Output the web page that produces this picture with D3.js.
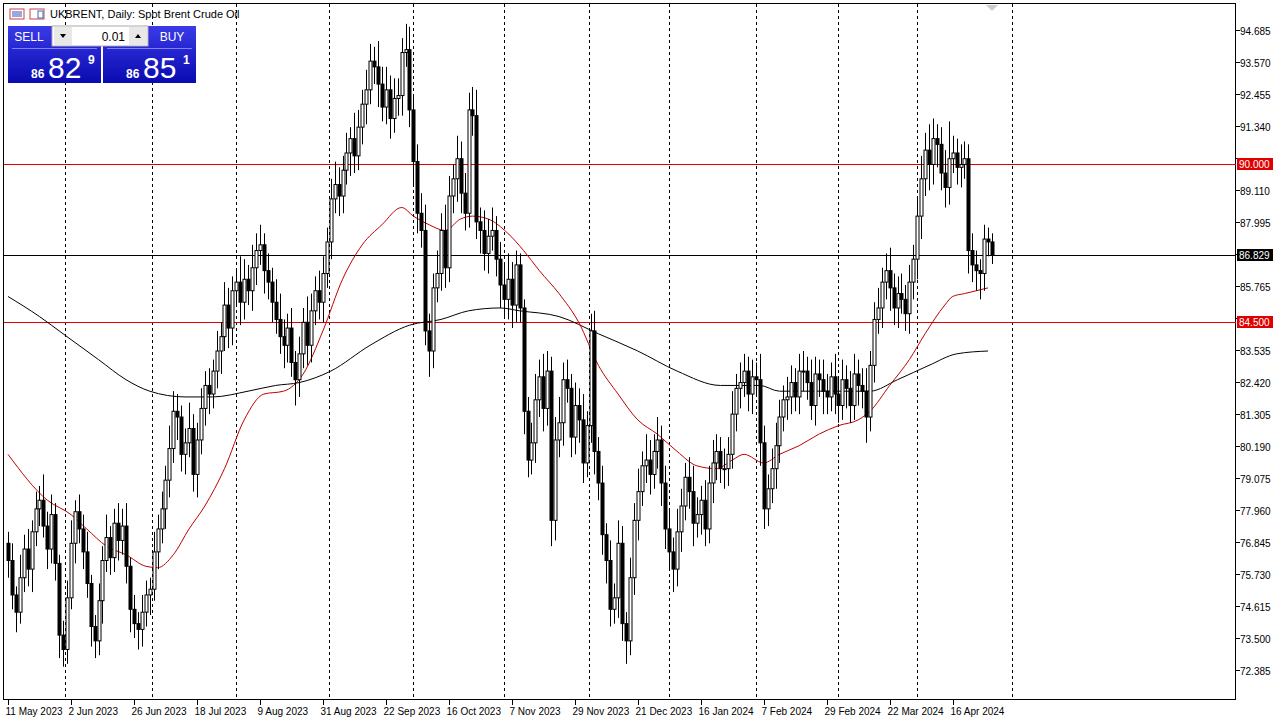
<!DOCTYPE html>
<html><head><meta charset="utf-8">
<script src="https://cdn.jsdelivr.net/npm/d3@7"></script>
<style>body{margin:0;background:#fff;}svg{display:block;font-family:"Liberation Sans",Arial,sans-serif;}</style>
</head><body>
<svg id="c" width="1285" height="724"></svg>
<script>
const closes = [
76.2,75.0,74.4,75.6,76.6,75.9,77.2,78.0,78.3,77.4,
76.6,77.8,76.1,73.6,73.1,74.9,76.8,77.9,77.3,76.5,
75.4,73.9,73.4,74.8,76.2,77.0,76.3,77.5,76.9,77.4,
76.0,74.5,74.0,73.8,74.4,75.0,75.2,76.5,77.3,78.0,
79.0,80.1,81.4,81.2,79.9,80.3,80.8,79.2,80.4,81.5,
82.3,82.0,82.8,83.5,84.0,85.1,84.3,85.6,85.9,85.2,
86.0,85.6,86.4,87.0,87.2,86.3,85.9,85.2,84.6,84.0,
83.7,84.3,83.1,82.5,83.4,84.5,83.7,84.9,85.6,85.2,
86.2,87.3,88.8,89.3,88.9,89.8,90.4,90.9,90.3,91.3,
92.1,92.6,93.6,93.4,92.8,92.0,92.6,91.6,92.3,92.4,
93.9,94.0,91.9,90.1,88.3,87.7,84.2,83.5,85.7,86.2,
87.7,86.4,88.9,89.5,90.2,89.0,88.3,91.9,91.7,88.0,
87.7,86.9,87.5,87.7,86.7,85.8,85.3,86.0,85.1,86.5,
85.0,81.4,79.7,80.3,81.8,82.6,81.5,82.8,77.6,80.4,
81.0,82.5,82.2,80.5,81.6,81.1,79.6,80.9,84.2,80.0,
78.9,77.1,76.2,74.5,74.9,76.8,74.0,73.4,75.6,77.6,
78.6,79.5,79.7,79.2,80.0,80.4,78.9,77.3,76.5,75.9,
77.2,78.1,79.1,78.6,77.5,77.8,78.3,77.3,78.9,79.6,
80.0,79.4,79.4,79.9,81.3,82.2,82.4,82.8,82.0,82.6,
82.5,80.3,78.0,78.7,79.4,80.2,81.2,81.8,81.9,82.4,
81.9,82.8,82.8,82.4,81.6,82.7,82.5,82.1,81.9,82.6,
82.0,81.6,82.5,82.2,81.6,82.7,82.3,82.1,81.2,83.0,
84.6,85.0,85.9,86.3,85.7,85.0,85.5,85.3,84.8,85.9,
86.7,88.2,89.5,90.5,90.0,90.9,90.7,89.7,89.2,90.2,
90.4,89.9,90.0,90.2,87.0,86.5,86.3,86.2,87.4,87.3,
86.83];
const opens = [
76.8,76.2,75.0,74.4,75.6,76.6,75.9,77.2,78.0,78.3,
77.4,76.6,77.8,76.1,73.6,73.1,74.9,76.8,77.9,77.3,
76.5,75.4,73.9,73.4,74.8,76.2,77.0,76.3,77.5,76.9,
77.4,76.0,74.5,74.0,73.8,74.4,75.0,75.2,76.5,77.3,
78.0,79.0,80.1,81.4,81.2,79.9,80.3,80.8,79.2,80.4,
81.5,82.3,82.0,82.8,83.5,84.0,85.1,84.3,85.6,85.9,
85.2,86.0,85.6,86.4,87.0,87.2,86.3,85.9,85.2,84.6,
84.0,83.7,84.3,83.1,82.5,83.4,84.5,83.7,84.9,85.6,
85.2,86.2,87.3,88.8,89.3,88.9,89.8,90.4,90.9,90.3,
91.3,92.1,92.6,93.6,93.4,92.8,92.0,92.6,91.6,92.3,
92.4,93.9,94.0,91.9,90.1,88.3,87.7,84.2,83.5,85.7,
86.2,87.7,86.4,88.9,89.5,90.2,89.0,88.3,91.9,91.7,
88.0,87.7,86.9,87.5,87.7,86.7,85.8,85.3,86.0,85.1,
86.5,85.0,81.4,79.7,80.3,81.8,82.6,81.5,82.8,77.6,
80.4,81.0,82.5,82.2,80.5,81.6,81.1,79.6,80.9,84.2,
80.0,78.9,77.1,76.2,74.5,74.9,76.8,74.0,73.4,75.6,
77.6,78.6,79.5,79.7,79.2,80.0,80.4,78.9,77.3,76.5,
75.9,77.2,78.1,79.1,78.6,77.5,77.8,78.3,77.3,78.9,
79.6,80.0,79.4,79.4,79.9,81.3,82.2,82.4,82.8,82.0,
82.6,82.5,80.3,78.0,78.7,79.4,80.2,81.2,81.8,81.9,
82.4,81.9,82.8,82.8,82.4,81.6,82.7,82.5,82.1,81.9,
82.6,82.0,81.6,82.5,82.2,81.6,82.7,82.3,82.1,81.2,
83.0,84.6,85.0,85.9,86.3,85.7,85.0,85.5,85.3,84.8,
85.9,86.7,88.2,89.5,90.5,90.0,90.9,90.7,89.7,89.2,
90.2,90.4,89.9,90.0,90.2,87.0,86.5,86.3,86.2,87.4,
87.3];
const wickUp = [
0.4,0.6,0.3,0.8,0.5,0.7,0.4,0.6,0.5,0.9,
0.5,0.7,0.4,0.3,0.5,0.6,0.8,0.4,0.6,0.5,
0.7,0.3,0.4,0.6,0.5,0.8,0.4,0.5,0.7,0.6,
0.8,0.3,0.5,0.4,0.6,0.5,0.4,0.7,0.5,0.6,
0.5,0.8,0.7,0.6,0.4,0.5,0.9,0.5,0.6,0.7,
0.5,0.6,0.4,0.7,0.5,0.8,0.6,0.5,0.4,0.9,
0.7,0.5,0.8,0.6,0.7,0.4,0.6,0.5,0.8,0.9,
0.6,0.5,0.7,0.4,0.6,0.5,0.9,0.6,0.5,0.7,
0.6,0.5,0.7,0.8,0.6,0.5,0.7,0.4,0.9,0.6,
0.5,0.7,0.6,0.5,0.9,0.6,0.8,0.5,0.7,0.6,
0.5,0.9,0.8,0.5,0.6,0.7,0.9,0.6,0.5,0.8,
0.6,0.9,0.7,0.5,0.8,0.6,0.7,0.6,0.8,0.9,
0.5,0.7,0.6,0.8,0.5,0.6,0.7,0.9,0.6,0.5,
0.4,0.3,0.5,0.7,0.9,0.6,0.8,0.7,0.5,0.8,
0.9,0.6,0.7,0.5,0.8,0.6,0.9,0.5,0.6,0.7,
0.5,0.6,0.4,0.7,0.5,0.8,0.6,0.4,0.7,0.6,
0.8,0.5,0.9,0.7,0.6,0.8,0.5,0.6,0.7,0.5,
0.8,0.6,0.5,0.7,0.9,0.6,0.5,0.7,0.6,0.8,
0.6,0.5,0.7,0.6,0.8,0.5,0.7,0.6,0.5,0.6,
0.5,0.9,0.6,0.5,0.7,0.8,0.6,0.5,0.7,0.6,
0.5,0.6,0.7,0.5,0.8,0.6,0.5,0.7,0.6,0.5,
0.8,0.6,0.7,0.5,0.6,0.7,0.5,0.6,0.8,0.5,
0.6,0.7,0.5,0.6,0.8,0.5,0.6,0.7,0.5,0.6,
0.5,0.7,0.8,0.6,0.9,0.7,0.5,0.6,0.8,1.3,
0.6,0.5,0.7,0.6,0.5,0.6,0.5,0.4,0.5,0.4,
0.3];
const wickDn = [
0.6,0.5,0.7,0.4,0.5,0.6,0.8,0.5,0.6,0.4,
0.7,0.5,0.6,0.8,0.6,0.5,0.4,0.7,0.5,0.6,
0.5,0.7,0.6,0.5,0.8,0.4,0.6,0.5,0.7,0.5,
0.6,0.8,0.5,0.7,0.6,0.5,0.7,0.4,0.6,0.5,
0.7,0.6,0.5,0.8,0.6,0.7,0.5,0.6,0.8,0.5,
0.6,0.7,0.5,0.6,0.8,0.5,0.7,0.6,0.5,0.8,
0.6,0.5,0.7,0.6,0.5,0.8,0.6,0.7,0.5,0.6,
0.8,0.6,0.5,0.9,0.6,0.5,0.7,0.6,0.5,0.6,
0.7,0.5,0.6,0.5,0.7,0.6,0.5,0.8,0.6,0.5,
0.6,0.7,0.5,0.6,0.8,0.5,0.6,0.7,0.5,0.6,
0.7,0.5,0.6,0.8,0.7,0.6,0.5,0.9,0.6,0.5,
0.6,0.7,0.5,0.6,0.8,0.7,0.6,0.5,0.7,0.6,
0.8,0.6,0.7,0.5,0.6,0.8,0.6,0.7,0.8,0.6,
0.5,0.8,0.6,0.5,0.7,0.6,0.8,0.6,0.9,0.7,
0.6,0.8,0.5,0.7,0.6,0.8,0.7,0.5,0.6,0.8,
0.6,0.7,0.8,0.6,0.5,0.7,0.6,0.8,0.5,0.6,
0.7,0.5,0.6,0.7,0.5,0.6,0.8,0.7,0.6,0.8,
0.6,0.7,0.5,0.6,0.8,0.5,0.7,0.6,0.5,0.7,
0.6,0.5,0.7,0.6,0.5,0.6,0.7,0.5,0.6,0.7,
0.6,0.8,0.7,0.6,0.5,0.7,0.6,0.5,0.7,0.6,
0.5,0.6,0.7,0.6,0.5,0.7,0.6,0.8,0.6,0.5,
0.7,0.6,0.5,0.7,0.6,0.5,0.7,0.6,0.9,0.5,
0.6,0.5,0.7,0.6,0.8,0.6,0.7,0.5,0.6,0.7,
0.6,0.7,0.8,0.6,0.9,0.7,0.8,0.6,0.7,0.6,
0.5,0.6,0.7,0.5,0.8,0.6,0.7,0.9,0.6,0.5,
0.3];
const ma50 = [[0,79.9],[10,78.3],[16,77.8],[20,77.3],[25,76.7],[30,76.4],[35,76.0],[38,75.95],[42,76.4],[46,77.3],[50,78.1],[55,79.4],[60,81.1],[65,82.0],[70,82.1],[75,82.7],[80,84.2],[85,86.0],[90,87.2],[95,87.9],[100,88.5],[103,88.2],[107,87.9],[111,87.7],[115,88.1],[118,88.2],[122,88.1],[127,87.6],[131,87.0],[135,86.3],[140,85.5],[145,84.5],[150,83.0],[155,82.0],[160,81.1],[165,80.6],[170,80.0],[175,79.5],[180,79.4],[184,79.7],[187,79.9],[192,79.6],[196,79.9],[201,80.2],[206,80.6],[211,80.9],[216,81.1],[219,81.4],[224,82.3],[229,83.2],[233,84.1],[238,85.1],[240,85.4],[243,85.5],[249,85.7]];
const ma200 = [[0,85.4],[8,84.7],[14,84.1],[23,83.2],[30,82.5],[36,82.1],[45,81.9],[52,81.9],[61,82.1],[68,82.3],[74,82.4],[82,82.8],[92,83.7],[102,84.4],[110,84.6],[117,84.9],[125,85.0],[130,84.9],[140,84.7],[150,84.1],[160,83.5],[170,82.8],[181,82.3],[191,82.3],[196,82.1],[206,82.1],[219,82.1],[226,82.5],[234,83.0],[241,83.4],[249,83.5]];
const priceTicks = [94.685,93.570,92.455,91.340,90.225,89.110,87.995,86.880,85.765,84.650,83.535,82.420,81.305,80.190,79.075,77.960,76.845,75.730,74.615,73.500,72.385];
const dateLabels = ["11 May 2023","2 Jun 2023","26 Jun 2023","18 Jul 2023","9 Aug 2023","31 Aug 2023","22 Sep 2023","16 Oct 2023","7 Nov 2023","29 Nov 2023","21 Dec 2023","16 Jan 2024","7 Feb 2024","29 Feb 2024","22 Mar 2024","16 Apr 2024"];
const dateBars = [0,16,32,48,64,80,96,112,128,144,160,176,192,208,224,240];
const gridBars = [14.5,36.5,58,81.5,103,126,147.5,168,190,211,231,255];
const levels = [{v:90.000,c:"#e00000"},{v:84.500,c:"#e00000"}];
const current = 86.829;

const svg = d3.select("#c");
const x = d3.scaleLinear().domain([0,250]).range([8,992]);
const y = d3.scaleLinear().domain([72.385,94.685]).range([670,30]);
const L=4,R=1236,T=4,B=700;

svg.append("rect").attr("x",0).attr("y",0).attr("width",1285).attr("height",724).attr("fill","#fff");
svg.append("rect").attr("x",L-0.5).attr("y",T-0.5).attr("width",R-L).attr("height",B-T).attr("fill","none").attr("stroke","#000");
svg.append("g").selectAll("line").data(gridBars).join("line")
  .attr("x1",d=>Math.round(x(d))+0.5).attr("x2",d=>Math.round(x(d))+0.5).attr("y1",T).attr("y2",B)
  .attr("stroke","#000").attr("stroke-dasharray","3,3").attr("stroke-width",1);
levels.forEach(l=>svg.append("line").attr("x1",L).attr("x2",R).attr("y1",Math.round(y(l.v))+0.5).attr("y2",Math.round(y(l.v))+0.5).attr("stroke",l.c));
svg.append("line").attr("x1",L).attr("x2",R).attr("y1",Math.round(y(current))+0.5).attr("y2",Math.round(y(current))+0.5).attr("stroke","#000");
const line=d3.line().x(d=>x(d[0])).y(d=>y(d[1])).curve(d3.curveMonotoneX);
svg.append("path").attr("d",line(ma200)).attr("fill","none").attr("stroke","#000");
svg.append("path").attr("d",line(ma50)).attr("fill","none").attr("stroke","#c00000");
const data = closes.map((c,i)=>({i,o:opens[i],c,h:Math.max(opens[i],c)+wickUp[i],l:Math.min(opens[i],c)-wickDn[i]}));
const g=svg.append("g");
data.forEach(d=>{
  const cx=Math.round(x(d.i))+0.5;
  g.append("line").attr("x1",cx).attr("x2",cx).attr("y1",y(d.h)).attr("y2",y(d.l)).attr("stroke","#000");
  const top=y(Math.max(d.o,d.c)), bot=y(Math.min(d.o,d.c));
  g.append("rect").attr("x",cx-1.5).attr("y",top).attr("width",3).attr("height",Math.max(1,bot-top))
    .attr("fill",d.c>=d.o?"#fff":"#000").attr("stroke","#000").attr("stroke-width",1);
});
const ax=svg.append("g");
const tagged=[90.225,86.880,84.650];
priceTicks.forEach(p=>{
  const yy=Math.round(y(p))+0.5;
  ax.append("line").attr("x1",R).attr("x2",R+4).attr("y1",yy).attr("y2",yy).attr("stroke","#000");
  if(!tagged.includes(p)) ax.append("text").attr("x",R+4).attr("y",yy+4).attr("font-size",10).text(p.toFixed(3));
});
function tag(v,bg){
  const yy=Math.round(y(v));
  ax.append("rect").attr("x",R+1).attr("y",yy-6).attr("width",36).attr("height",12).attr("fill",bg);
  ax.append("text").attr("x",R+3).attr("y",yy+4).attr("font-size",10).attr("fill","#fff").text(v.toFixed(3));
}
levels.forEach(l=>tag(l.v,"#e00000"));
tag(current,"#000");
const bx=svg.append("g");
dateBars.forEach((b,k)=>{
  const xx=Math.round(x(b))+0.5;
  bx.append("line").attr("x1",xx).attr("x2",xx).attr("y1",B).attr("y2",B+5).attr("stroke","#000");
  bx.append("text").attr("x",xx-3).attr("y",B+15).attr("font-size",10).text(dateLabels[k]);
});
const tp=svg.append("g");
tp.append("rect").attr("x",10).attr("y",9).attr("width",14).attr("height",10).attr("fill","#fff").attr("stroke","#d04040");
[12,14,16].forEach(yy=>tp.append("line").attr("x1",12).attr("x2",22).attr("y1",yy).attr("y2",yy).attr("stroke","#3050c0"));
tp.append("rect").attr("x",30).attr("y",9).attr("width",14).attr("height",10).attr("fill","#fff").attr("stroke","#d04040");
tp.append("rect").attr("x",38).attr("y",11).attr("width",5).attr("height",7).attr("fill","#fff").attr("stroke","#3070c0");
tp.append("text").attr("x",50).attr("y",18).attr("font-size",11).text("UKBRENT, Daily:  Spot Brent Crude Oil");
const grad=svg.append("defs").append("linearGradient").attr("id","bg").attr("x1",0).attr("x2",0).attr("y1",0).attr("y2",1);
grad.append("stop").attr("offset",0).attr("stop-color","#3a3ae8");
grad.append("stop").attr("offset",1).attr("stop-color","#0a0ab0");
[[8,"SELL","82","9"],[103,"BUY","85","1"]].forEach(([x0,lab,big,sup])=>{
  tp.append("rect").attr("x",x0).attr("y",26).attr("width",93).attr("height",57).attr("fill","url(#bg)");
  tp.append("line").attr("x1",x0+4).attr("x2",x0+89).attr("y1",48.5).attr("y2",48.5).attr("stroke","#8080ff");
  tp.append("text").attr("x",x0+(lab==="SELL"?21:69)).attr("y",41).attr("font-size",12).attr("fill","#fff").attr("text-anchor","middle").text(lab);
  tp.append("text").attr("x",x0+23).attr("y",78).attr("font-size",12).attr("font-weight","bold").attr("fill","#fff").text("86");
  tp.append("text").attr("x",x0+40).attr("y",78).attr("font-size",30).attr("fill","#fff").text(big);
  tp.append("text").attr("x",x0+80).attr("y",64).attr("font-size",12).attr("font-weight","bold").attr("fill","#fff").text(sup);
});
tp.append("rect").attr("x",52).attr("y",26).attr("width",96).attr("height",20).attr("fill","#fff").attr("stroke","#aaa");
tp.append("rect").attr("x",54).attr("y",27).attr("width",18).attr("height",18).attr("fill","#e8e8e8");
tp.append("rect").attr("x",129).attr("y",27).attr("width",18).attr("height",18).attr("fill","#e8e8e8");
tp.append("path").attr("d","M60,34 L66,34 L63,38 Z").attr("fill","#000");
tp.append("path").attr("d","M135,38 L141,38 L138,34 Z").attr("fill","#000");
tp.append("text").attr("x",125).attr("y",41).attr("font-size",12).attr("text-anchor","end").text("0.01");
svg.append("path").attr("d","M986,5 L998,5 L992,11 Z").attr("fill","#ccc");
</script>
</body></html>
